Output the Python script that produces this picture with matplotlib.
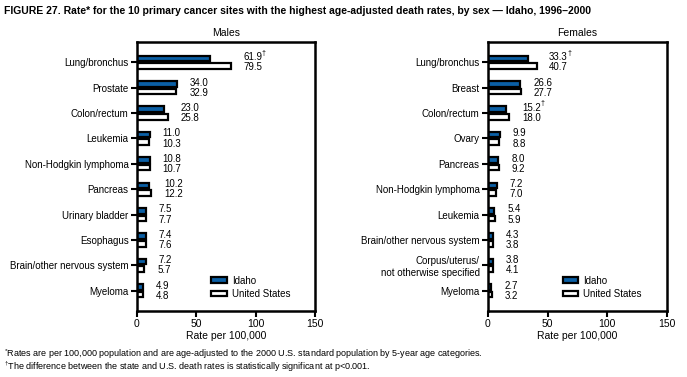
import matplotlib
matplotlib.use("Agg")
import matplotlib.pyplot as plt
from matplotlib.patches import Patch

plt.rcParams['font.family'] = ['Liberation Sans', 'DejaVu Sans']
plt.rcParams['mathtext.fontset'] = 'custom'
plt.rcParams['mathtext.rm'] = 'Liberation Sans'
plt.rcParams['mathtext.it'] = 'Liberation Sans'

# data
male_sites = ["Lung/bronchus", "Prostate", "Colon/rectum", "Leukemia",
              "Non-Hodgkin lymphoma", "Pancreas", "Urinary bladder",
              "Esophagus", "Brain/other nervous system", "Myeloma"]
male_idaho = [61.9, 34.0, 23.0, 11.0, 10.8, 10.2, 7.5, 7.4, 7.2, 4.9]
male_us = [79.5, 32.9, 25.8, 10.3, 10.7, 12.2, 7.7, 7.6, 5.7, 4.8]
male_signif = [True, False, False, False, False, False, False, False, False, False]

female_sites = ["Lung/bronchus", "Breast", "Colon/rectum", "Ovary", "Pancreas",
                "Non-Hodgkin lymphoma", "Leukemia", "Brain/other nervous system",
                "Corpus/uterus/\nnot otherwise specified", "Myeloma"]
female_idaho = [33.3, 26.6, 15.2, 9.9, 8.0, 7.2, 5.4, 4.3, 3.8, 2.7]
female_us = [40.7, 27.7, 18.0, 8.8, 9.2, 7.0, 5.9, 3.8, 4.1, 3.2]
female_signif = [True, False, True, False, False, False, False, False, False, False]

xticks = [0, 50, 100, 150]
blue = '#0B5FA5'
W, H = 687, 377

fig = plt.figure(figsize=(W / 100, H / 100), dpi=100)


def panel(left_px, width_px, sites, idaho, us, signif, title):
    ax = fig.add_axes([left_px / W, (H - 311) / H, width_px / W, 269 / H])
    n = len(sites)
    ys = list(range(n))
    ax.barh([y - 0.15 for y in ys], idaho, height=0.22, color=blue,
            edgecolor='black', linewidth=1.6)
    ax.barh([y + 0.15 for y in ys], us, height=0.22, color='white',
            edgecolor='black', linewidth=1.6)
    for y, a, b, s in zip(ys, idaho, us, signif):
        xm = max(a, b)
        ax.annotate(f"{a:.1f}", (xm, y - 0.2), xytext=(9, 0), textcoords='offset points',
                    va='center', ha='left', fontsize=7)
        if s:
            # superscript dagger just after the Idaho value
            ax.annotate("\u2020", (xm, y - 0.2), xytext=(22, 3), textcoords='offset points',
                        va='center', ha='left', fontsize=5)
        ax.annotate(f"{b:.1f}", (xm, y + 0.2), xytext=(9, 0), textcoords='offset points',
                    va='center', ha='left', fontsize=7)
    ax.set_xlim(0, 150)
    ax.set_ylim(n - 0.2, -0.8)
    ax.set_yticks(ys)
    ax.set_yticklabels(sites, fontsize=7)
    ax.set_xticks(xticks)
    ax.set_xticklabels([str(t) for t in xticks], fontsize=7.5)
    ax.set_xlabel("Rate per 100,000", fontsize=7.5, labelpad=1)
    for sp in ax.spines.values():
        sp.set_linewidth(1.8)
    ax.tick_params(axis='both', width=1.5, length=4, pad=2)
    ax.set_title(title, fontsize=7.5, pad=4)
    handles = [Patch(facecolor=blue, edgecolor='black', linewidth=1.6, label='Idaho'),
               Patch(facecolor='white', edgecolor='black', linewidth=1.6, label='United States')]
    ax.legend(handles=handles, loc='upper left', bbox_to_anchor=(0.39, 0.15),
              frameon=False, fontsize=7, handlelength=1.6, handleheight=0.5,
              handletextpad=0.5, labelspacing=0.35, borderpad=0)
    return ax


panel(137, 178, male_sites, male_idaho, male_us, male_signif, "Males")
panel(488, 179, female_sites, female_idaho, female_us, female_signif, "Females")

fig.text(4 / W, 1 - 11 / H,
         "FIGURE 27. Rate* for the 10 primary cancer sites with the highest age-adjusted death rates, by sex \u2014 Idaho, 1996\u20132000",
         fontsize=7.5, fontweight='bold', va='center', ha='left')
fig.text(4 / W, 1 - 354 / H,
         r"$^{*}$Rates are per 100,000 population and are age-adjusted to the 2000 U.S. standard population by 5-year age categories.",
         fontsize=6.5, va='center', ha='left')
fig.text(4 / W, 1 - 367 / H,
         r"$^{†}$The difference between the state and U.S. death rates is statistically significant at p<0.001.",
         fontsize=6.5, va='center', ha='left')

fig.savefig("out.png", dpi=100)
